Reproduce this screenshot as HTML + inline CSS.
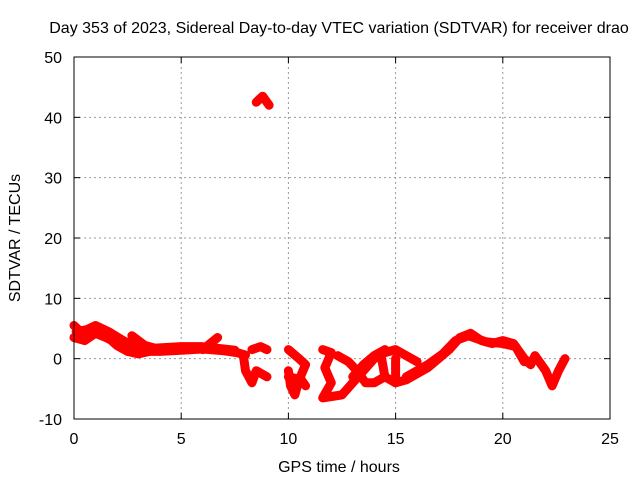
<!DOCTYPE html>
<html><head><meta charset="utf-8"><style>
body{margin:0;background:#fff}
svg{display:block;font-family:"Liberation Sans",sans-serif;font-size:16px}
</style></head><body>
<svg id="chart" width="640" height="480">
<text x="339" y="33" text-anchor="middle">Day 353 of 2023, Sidereal Day-to-day VTEC variation (SDTVAR) for receiver drao</text>
<text x="339" y="472" text-anchor="middle">GPS time / hours</text>
<text transform="translate(20,238) rotate(-90)" text-anchor="middle">SDTVAR / TECUs</text>
<g id="grid"></g><g id="ticks"></g><g id="data"></g>
<rect x="74" y="57" width="536" height="362" fill="none" stroke="#000" stroke-width="1"/>
</svg>
<script>
const xTicks=[0,5,10,15,20,25];
const yTicks=[-10,0,10,20,30,40,50];
const seg1=[[0,5.5],[0.3,4.5],[0.6,3.8],[1,5],[1.5,3.8],[2,2.2],[2.5,1.2],[3,0.8],[3.5,1.2],[4,1.2],[5,1.4],[6,1.6],[7,1.3],[7.6,1],[8,0.6]];
const seg2=[[0,3.5],[0.5,3],[1,4.2],[1.5,3.5],[2,2.6],[2.5,1.8],[3,1.6],[4,1.8],[5,2],[6,2]];
const seg2b=[[0.1,4.5],[0.6,4.8],[1,5.5],[1.6,4.5],[2.2,3.2],[2.8,2],[3.5,1.6],[5,1.8],[6.5,1.8],[7.5,1.4]];
const seg3=[[2.7,3.8],[3.3,2.2],[4,1.5]];
const seg4=[[6,1.5],[6.7,3.5]];
const seg5=[[7.9,0.5],[8,-2],[8.3,-4],[8.5,-2],[9,-3]];
const seg6=[[8.3,1.5],[8.7,2],[9,1.5]];
const seg7=[[8.5,42.5],[8.8,43.5],[9.1,42]];
const seg8=[[10,1.5],[10.5,0],[10.8,-1],[10.5,-3.5],[10.3,-6],[10.1,-4.5],[10,-2]];
const seg9=[[10,-3],[10.6,-3.5],[10.8,-4.5]];
const seg10=[[11.6,1.5],[12,1],[11.7,-1.5],[12,-4],[11.6,-6.5],[12.5,-6],[13,-4],[13.5,-2],[14,0],[14.5,1],[15,1.5],[15.5,0.5],[16,-0.5]];
const seg11=[[12.3,0.5],[12.8,-0.5],[13.2,-2],[13.6,-4],[14,-4],[14.5,-3],[15,-4],[15.5,-3.5],[16,-2.5],[16.5,-1.5],[17,0],[17.5,1.5],[18,3.5],[18.5,4.2],[19,3],[19.5,2.5],[20,3],[20.5,2.5],[21,0],[21.3,-1],[21.5,0.5],[22,-2],[22.3,-4.5],[22.6,-2],[22.9,0]];
const seg11b=[[15.5,-3],[16.5,-1],[17.2,0.8],[17.8,3],[18.4,3.8],[19.2,2.8],[20,2.5],[20.6,2],[21,-0.5]];
const seg12=[[13,-3],[13.5,-1],[14,0.5],[14.5,1.5]];
const seg13=[[14.5,-3],[14.3,1]];
const seg14=[[15,0],[15,-4]];
const series=[seg1,seg2,seg2b,seg3,seg4,seg5,seg6,seg7,seg8,seg9,seg10,seg11,seg11b,seg12,seg13,seg14];
const X=h=>74+h*536/25, Y=v=>419-(v+10)*362/60;
const NS='http://www.w3.org/2000/svg';
const g=document.getElementById('grid'),t=document.getElementById('ticks'),d=document.getElementById('data');
function mk(tag,a,p){const e=document.createElementNS(NS,tag);for(const k in a)e.setAttribute(k,a[k]);p.appendChild(e);return e;}
xTicks.forEach(v=>{const x=X(v);
 if(v>0&&v<25){const l=mk('line',{x1:x,x2:x,y1:57,y2:419,stroke:'#999','stroke-dasharray':'2,3'},g);
 
 }
 const tx=mk('text',{x:x,y:444,'text-anchor':'middle'},t);tx.textContent=v;
 
 
 mk('line',{x1:x,x2:x,y1:419,y2:413,stroke:'#000'},t);mk('line',{x1:x,x2:x,y1:57,y2:63,stroke:'#000'},t);});
yTicks.forEach(v=>{const y=Y(v);
 if(v>-10&&v<50){const l=mk('line',{x1:74,x2:610,y1:y,y2:y,stroke:'#999','stroke-dasharray':'2,3'},g);
 
 }
 const tx=mk('text',{x:62,y:y+6,'text-anchor':'end'},t);tx.textContent=v;
 
 
 mk('line',{x1:74,x2:80,y1:y,y2:y,stroke:'#000'},t);mk('line',{x1:610,x2:604,y1:y,y2:y,stroke:'#000'},t);});
series.forEach((s,i)=>{const p=mk('polyline',{points:s.map(q=>X(q[0])+','+Y(q[1])).join(' '),fill:'none',stroke:'#f00','stroke-width':9,'stroke-linejoin':'round','stroke-linecap':'round'},d);
 
 });
</script>
</body></html>
